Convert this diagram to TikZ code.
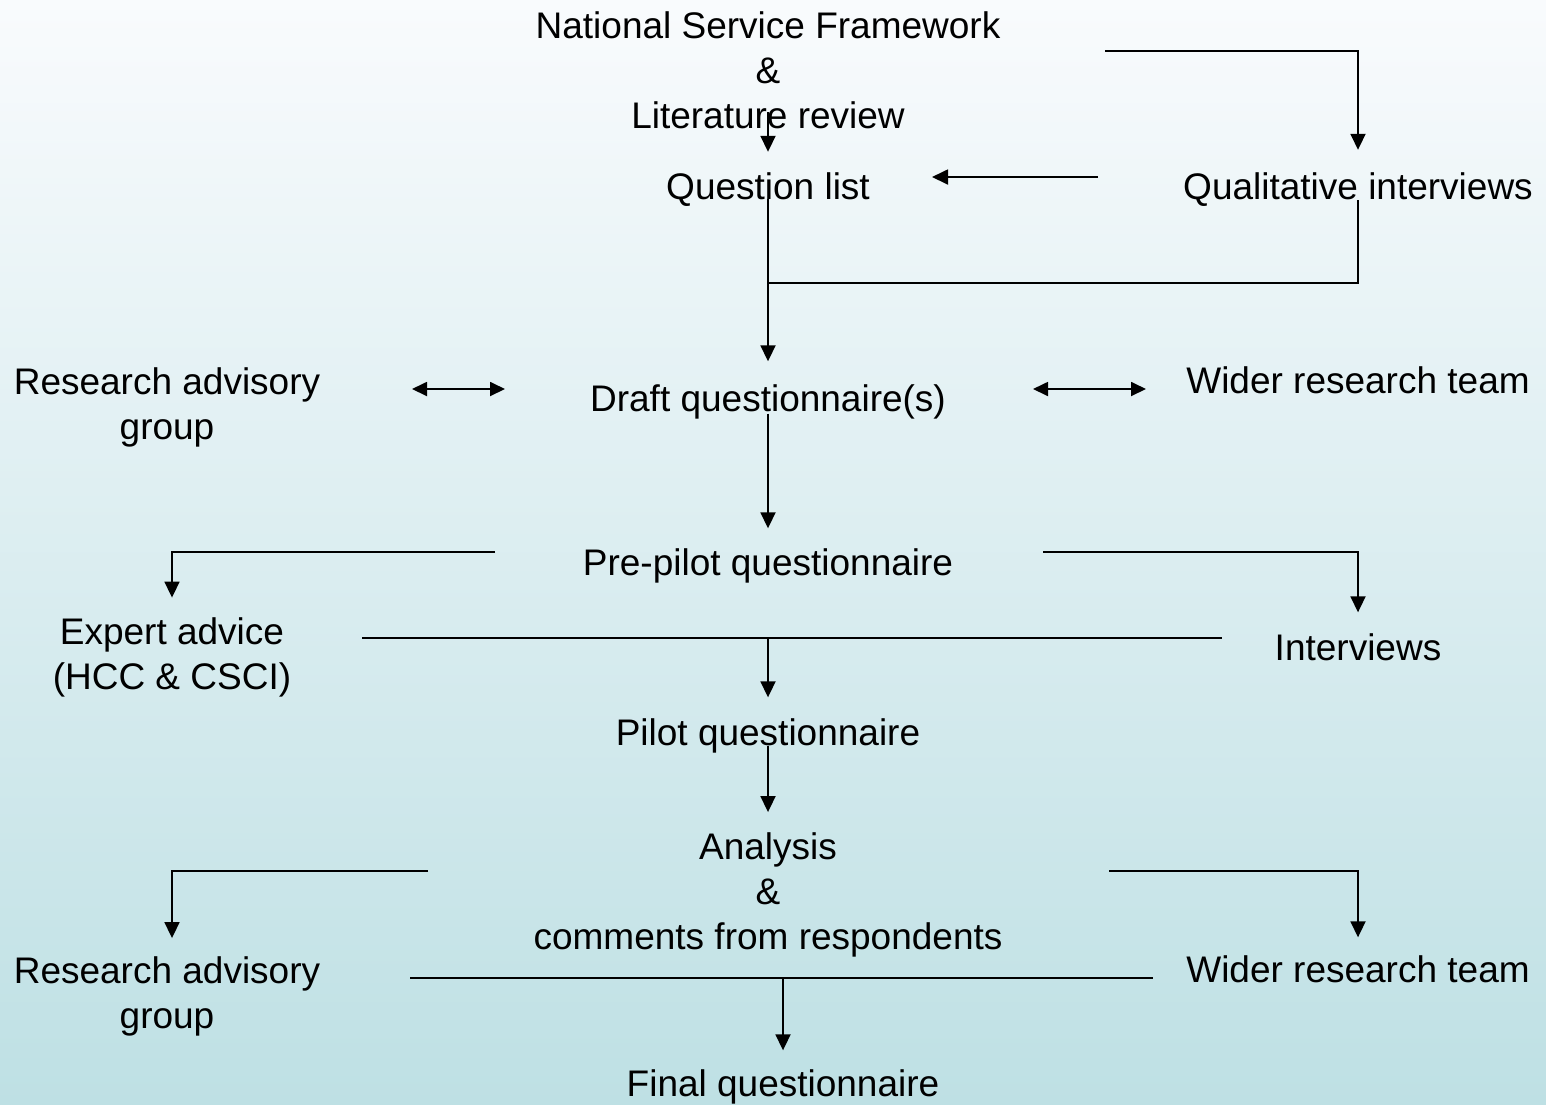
\documentclass[tikz,border=0pt]{standalone}
\usepackage{fontspec}
\setmainfont{Liberation Sans}
\usetikzlibrary{arrows.meta,positioning}
\definecolor{bgtop}{HTML}{F9FBFD}
\definecolor{bgbot}{HTML}{BEE0E4}
\tikzset{
  txt/.style={inner sep=0pt, align=center, font=\fontsize{37}{45}\selectfont},
  lbl/.style={txt, text height=27pt, text depth=8pt},
  link/.style={line width=1.8pt},
  arr/.style={link, -{Triangle[width=15pt,length=16pt]}},
  dbl/.style={link, {Triangle[width=14pt,length=15pt]}-{Triangle[width=14pt,length=15pt]}},
}
\begin{document}
\begin{tikzpicture}[x=1pt,y=-1pt]

% background
\shade[top color=bgtop,bottom color=bgbot] (0,0) rectangle (1546,1104);
\useasboundingbox (0,0) rectangle (1546,1104);

% nodes
\node[txt] (nsf) at (768,70.5) {National Service Framework\\\&\\Literature review};
\node[lbl] (ql) at (768,189.5) {Question list};
\node[lbl] (qi) at (1358,189.5) {Qualitative interviews};
\node[txt] (ragA) at (167,407) {Research advisory\\group};
\node[lbl] (draft) at (768,402) {Draft questionnaire(s)};
\node[lbl] (wrtA) at (1358,384) {Wider research team};
\node[lbl] (pre) at (768,566) {Pre-pilot questionnaire};
\node[txt] (expert) at (172,657.5) {Expert advice\\(HCC \& CSCI)};
\node[lbl] (intv) at (1358,651) {Interviews};
\node[lbl] (pilot) at (768,736) {Pilot questionnaire};
\node[txt] (anal) at (768,894.5) {Analysis\\\&\\comments from respondents};
\node[txt] (ragB) at (167,996) {Research advisory\\group};
\node[lbl] (wrtB) at (1358,973) {Wider research team};
\node[lbl] (final) at (783,1087) {Final questionnaire};

% free ends
\coordinate (nsfR) at (1105,51);
\coordinate (qiW) at (1098,177);
\coordinate (qlE) at (932,177);
\coordinate (join) at (768,283);
\coordinate (ragAE) at (412,389);
\coordinate (draftW) at (505,389);
\coordinate (draftE) at (1033,389);
\coordinate (wrtAW) at (1146,389);
\coordinate (preW) at (495,552);
\coordinate (preE) at (1043,552);
\coordinate (mergeA) at (362,638);
\coordinate (mergeB) at (1222,638);
\coordinate (analW) at (428,871);
\coordinate (analE) at (1109,871);
\coordinate (finA) at (410,978);
\coordinate (finB) at (1153,978);

% question list
\draw[arr] (nsfR) -| ([yshift=22pt]qi.north);
\draw[arr] ([yshift=17pt]nsf.south) -- ([yshift=20pt]ql.north);
\draw[arr] (qiW) -- (qlE);
\draw[link] ([yshift=7pt]qi.south) |- (join);
\draw[arr] ([yshift=8pt]ql.south) -- ([yshift=23pt]draft.north);

% draft questionnaire
\draw[dbl] (ragAE) -- (draftW);
\draw[dbl] (draftE) -- (wrtAW);
\draw[arr] ([yshift=6pt]draft.south) -- ([yshift=20pt]pre.north);

% pre-pilot
\draw[arr] (preW) -| ([yshift=20pt]expert.north);
\draw[arr] (preE) -| ([yshift=21pt]intv.north);
\draw[link] (mergeA) -- (mergeB);
\draw[arr] (pilot |- mergeA) -- ([yshift=21pt]pilot.north);
\draw[arr] ([yshift=8pt]pilot.south) -- ([yshift=20pt]anal.north);

% analysis
\draw[arr] (analW) -| ([xshift=5pt,yshift=18pt]ragB.north);
\draw[arr] (analE) -| ([yshift=18pt]wrtB.north);
\draw[link] (finA) -- (finB);
\draw[arr] (final |- finA) -- ([yshift=19pt]final.north);

\end{tikzpicture}
\end{document}
